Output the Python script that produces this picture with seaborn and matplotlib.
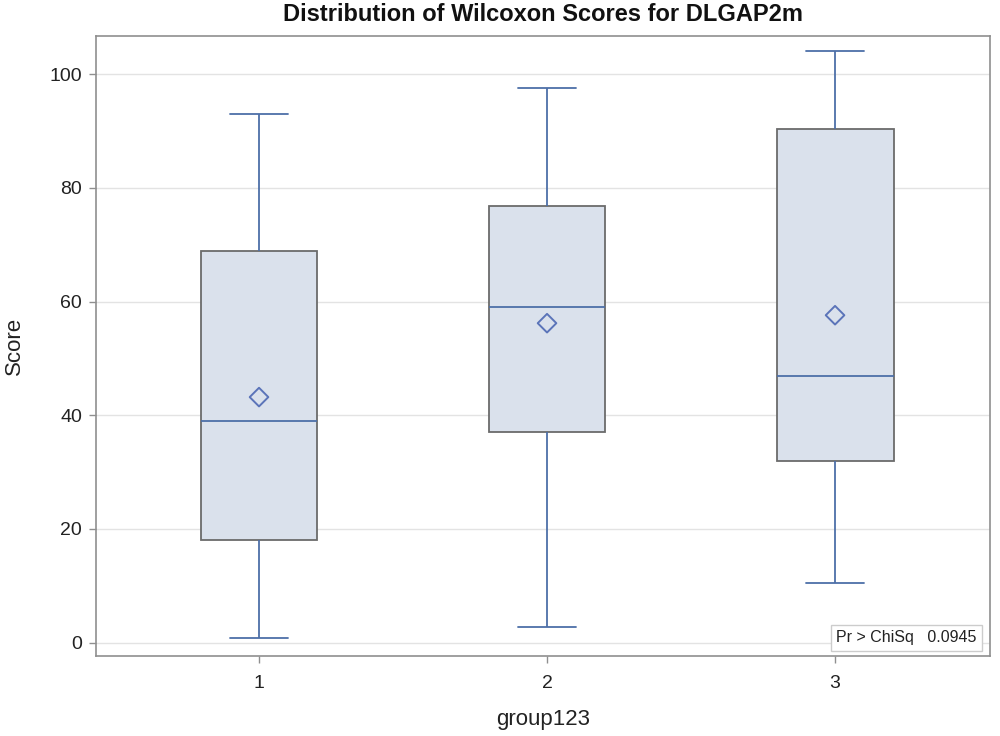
import numpy as np
import pandas as pd
import matplotlib as mpl
mpl.use("Agg")
import matplotlib.pyplot as plt
import seaborn as sns

# Box statistics
groups = ["1", "2", "3"]
whisker_low = [0.9, 2.8, 10.5]
q1 = [18.1, 37.1, 32.0]
median = [39.0, 59.0, 46.9]
q3 = [68.9, 76.8, 90.3]
whisker_high = [93.0, 97.5, 104.0]
means = [43.2, 56.2, 57.6]
p_value = "0.0945"

# five points per group give exactly these quartiles (linear percentiles, n=5)
rows = []
for g, lo, a, m, b, hi in zip(groups, whisker_low, q1, median, q3, whisker_high):
    for v in (lo, a, m, b, hi):
        rows.append({"group123": g, "Score": v})
df = pd.DataFrame(rows)
mean_df = pd.DataFrame({"group123": groups, "Score": means})

sns.set_style("white")
plt.rcParams["font.family"] = ["Liberation Sans", "DejaVu Sans"]

blue = "#4d6fa8"
edge = "#6b6b6b"
fill = "#dae1ec"

fig = plt.figure(figsize=(10, 7.36), dpi=100)
ax = fig.add_axes([0.096, 0.109, 0.894, 0.842])

ax.yaxis.grid(True, color="#e3e3e3", linewidth=1)
ax.set_axisbelow(True)

sns.boxplot(data=df, x="group123", y="Score", order=groups, whis=np.inf,
            width=0.406, color=fill, linewidth=1.3, ax=ax,
            boxprops=dict(facecolor=fill, edgecolor=edge),
            whiskerprops=dict(color=blue),
            capprops=dict(color=blue),
            medianprops=dict(color=blue))

sns.scatterplot(data=mean_df, x="group123", y="Score", marker="D", s=90,
                facecolor="none", edgecolor="#5b74b9", linewidth=1.4,
                ax=ax, zorder=5)

ax.set_xlim(-0.566, 2.538)
ax.set_ylim(-2.3, 106.7)
ax.set_yticks([0, 20, 40, 60, 80, 100])

for s in ax.spines.values():
    s.set_color("#8f8f8f")
    s.set_linewidth(1.2)
ax.tick_params(axis="both", direction="out", length=5, width=1,
               bottom=True, left=True,
               color="#8f8f8f", labelsize=14, labelcolor="#222222")
ax.tick_params(axis="y", pad=5)
ax.tick_params(axis="x", pad=9)

ax.set_xlabel("group123", fontsize=16, color="#222222", labelpad=12)
ax.set_ylabel("Score", fontsize=16, color="#222222", labelpad=18)
ax.set_title("Distribution of Wilcoxon Scores for DLGAP2m", fontsize=17,
             fontweight="bold", color="#111111", pad=11)

ax.text(0.985, 0.017, "Pr > ChiSq   " + p_value, transform=ax.transAxes,
        ha="right", va="bottom", fontsize=11.5, color="#222222",
        bbox=dict(boxstyle="square,pad=0.35", facecolor="white",
                  edgecolor="#cccccc", linewidth=1))

fig.savefig("out.png", dpi=100)
